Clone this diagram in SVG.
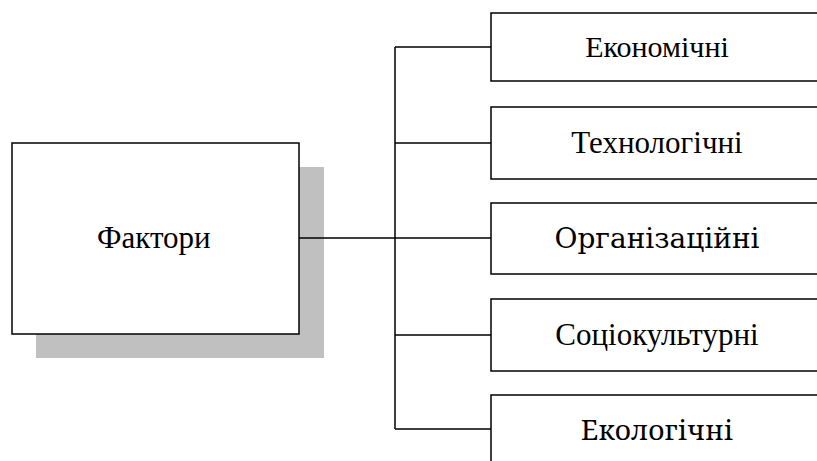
<svg xmlns="http://www.w3.org/2000/svg" width="817" height="461" viewBox="0 0 817 461">
<rect width="817" height="461" fill="#fff"/>
<g id="factors">
<rect x="36" y="167" width="288" height="191" fill="#c0c0c0"/>
<rect x="12" y="143" width="287" height="191" fill="#fff" stroke="#000" stroke-width="1.5"/>
<text x="97" y="248" font-family="Liberation Serif" font-size="31">Фактори</text>
</g>
<g id="economic">
<rect x="491" y="13" width="340" height="68" fill="#fff" stroke="#000" stroke-width="1.5"/>
<text x="657" y="57" font-family="Liberation Serif" font-size="30" text-anchor="middle">Економічні</text>
</g>
<g id="technological">
<rect x="491" y="107" width="340" height="72" fill="#fff" stroke="#000" stroke-width="1.5"/>
<text x="657" y="153" font-family="serif" font-size="31" text-anchor="middle">Технологічні</text>
</g>
<g id="organizational">
<rect x="491" y="203" width="340" height="71" fill="#fff" stroke="#000" stroke-width="1.5"/>
<text x="657" y="248" font-family="DejaVu Serif" font-size="28" text-anchor="middle">Організаційні</text>
</g>
<g id="sociocultural">
<rect x="491" y="299" width="340" height="72" fill="#fff" stroke="#000" stroke-width="1.5"/>
<text x="657" y="345" font-family="Liberation Serif" font-size="31" text-anchor="middle">Соціокультурні</text>
</g>
<g id="ecological">
<rect x="491" y="395" width="340" height="80" fill="#fff" stroke="#000" stroke-width="1.5"/>
<text x="657" y="440" font-family="Noto Serif" font-size="28" text-anchor="middle">Екологічні</text>
</g>
<g id="connectors">
<path d="M299 238H491M395 47V429M395 47H491M395 143H491M395 335H491M395 429H491" stroke="#000" stroke-width="1.5" fill="none"/>
</g>
</svg>
